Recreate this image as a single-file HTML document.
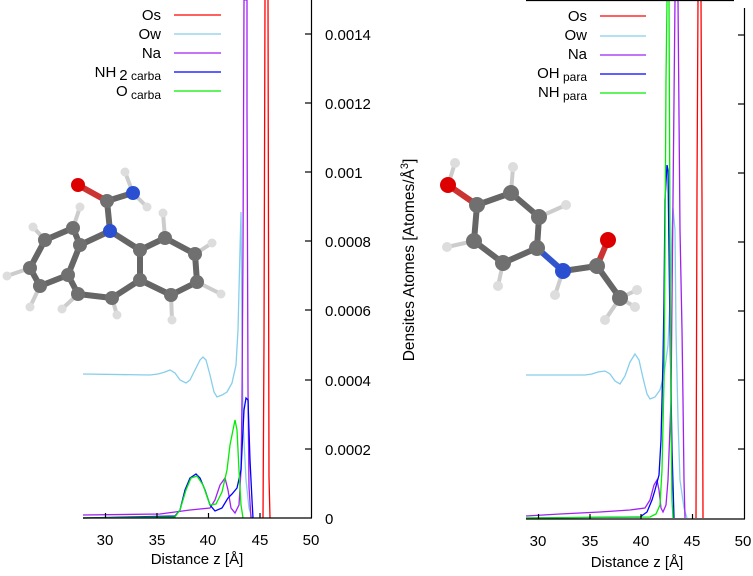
<!DOCTYPE html>
<html><head><meta charset="utf-8"><style>
html,body{margin:0;padding:0;background:#fff}
svg{display:block}
text{font-family:"Liberation Sans",sans-serif;fill:#000}
</style></head><body>
<svg width="753" height="576" viewBox="0 0 753 576" xmlns="http://www.w3.org/2000/svg">
<g stroke-linecap="round">
<g stroke="#666" stroke-width="6">
<line x1="78" y1="185" x2="107" y2="201" stroke="#c33"/>
<line x1="107" y1="201" x2="133" y2="193"/>
<line x1="133" y1="193" x2="125" y2="172" stroke="#ccc" stroke-width="4"/>
<line x1="133" y1="193" x2="147" y2="207" stroke="#ccc" stroke-width="4"/>
<line x1="107" y1="201" x2="110" y2="231"/>
<line x1="110" y1="231" x2="80" y2="245"/>
<line x1="110" y1="231" x2="140" y2="250"/>
<line x1="80" y1="245" x2="73" y2="228"/>
<line x1="73" y1="228" x2="80" y2="207" stroke="#ccc" stroke-width="4"/>
<line x1="73" y1="228" x2="45" y2="240"/>
<line x1="45" y1="240" x2="33" y2="227" stroke="#ccc" stroke-width="4"/>
<line x1="45" y1="240" x2="30" y2="268"/>
<line x1="30" y1="268" x2="7" y2="276" stroke="#ccc" stroke-width="4"/>
<line x1="30" y1="268" x2="40" y2="286"/>
<line x1="40" y1="286" x2="30" y2="307" stroke="#ccc" stroke-width="4"/>
<line x1="40" y1="286" x2="68" y2="275"/>
<line x1="68" y1="275" x2="80" y2="245"/>
<line x1="68" y1="275" x2="78" y2="294"/>
<line x1="78" y1="294" x2="62" y2="309" stroke="#ccc" stroke-width="4"/>
<line x1="78" y1="294" x2="112" y2="298"/>
<line x1="112" y1="298" x2="117" y2="315" stroke="#ccc" stroke-width="4"/>
<line x1="112" y1="298" x2="140" y2="280"/>
<line x1="140" y1="280" x2="140" y2="250"/>
<line x1="140" y1="280" x2="171" y2="295"/>
<line x1="171" y1="295" x2="172" y2="320" stroke="#ccc" stroke-width="4"/>
<line x1="171" y1="295" x2="197" y2="282"/>
<line x1="197" y1="282" x2="221" y2="294" stroke="#ccc" stroke-width="4"/>
<line x1="197" y1="282" x2="195" y2="254"/>
<line x1="195" y1="254" x2="212" y2="243" stroke="#ccc" stroke-width="4"/>
<line x1="195" y1="254" x2="165" y2="238"/>
<line x1="165" y1="238" x2="163" y2="213" stroke="#ccc" stroke-width="4"/>
<line x1="165" y1="238" x2="140" y2="250"/>
</g>
<g fill="#707070">
<circle cx="107" cy="201" r="7"/><circle cx="80" cy="245" r="7"/><circle cx="73" cy="228" r="7"/>
<circle cx="45" cy="240" r="7"/><circle cx="30" cy="268" r="7"/><circle cx="40" cy="286" r="7"/>
<circle cx="68" cy="275" r="7"/><circle cx="78" cy="294" r="7"/><circle cx="112" cy="298" r="7"/>
<circle cx="140" cy="280" r="7"/><circle cx="140" cy="250" r="7"/><circle cx="171" cy="295" r="7"/>
<circle cx="197" cy="282" r="7"/><circle cx="195" cy="254" r="7"/><circle cx="165" cy="238" r="7"/>
</g>
<circle cx="78" cy="185" r="7" fill="#d00"/>
<circle cx="133" cy="193" r="7" fill="#2a4fd0"/><circle cx="110" cy="231" r="7" fill="#2a4fd0"/>
<g fill="#ddd">
<circle cx="125" cy="172" r="4.5"/><circle cx="147" cy="207" r="4.5"/><circle cx="80" cy="207" r="4.5"/>
<circle cx="33" cy="227" r="4.5"/><circle cx="7" cy="276" r="4.5"/><circle cx="30" cy="307" r="4.5"/>
<circle cx="62" cy="309" r="4.5"/><circle cx="117" cy="315" r="4.5"/><circle cx="172" cy="320" r="4.5"/>
<circle cx="221" cy="294" r="4.5"/><circle cx="212" cy="243" r="4.5"/><circle cx="163" cy="213" r="4.5"/>
</g>
<g stroke="#666" stroke-width="6">
<line x1="455" y1="163" x2="448" y2="185" stroke="#ccc" stroke-width="4"/>
<line x1="448" y1="185" x2="477" y2="205" stroke="#c33"/>
<line x1="477" y1="205" x2="511" y2="193"/>
<line x1="511" y1="193" x2="513" y2="167" stroke="#ccc" stroke-width="4"/>
<line x1="511" y1="193" x2="539" y2="217"/>
<line x1="539" y1="217" x2="566" y2="205" stroke="#ccc" stroke-width="4"/>
<line x1="539" y1="217" x2="537" y2="248"/>
<line x1="537" y1="248" x2="563" y2="271" stroke="#3355cc"/>
<line x1="563" y1="271" x2="555" y2="295" stroke="#ccc" stroke-width="4"/>
<line x1="537" y1="248" x2="503" y2="263"/>
<line x1="503" y1="263" x2="498" y2="286" stroke="#ccc" stroke-width="4"/>
<line x1="503" y1="263" x2="474" y2="241"/>
<line x1="474" y1="241" x2="447" y2="247" stroke="#ccc" stroke-width="4"/>
<line x1="474" y1="241" x2="477" y2="205"/>
<line x1="563" y1="271" x2="597" y2="266"/>
<line x1="597" y1="266" x2="608" y2="240" stroke="#c33"/>
<line x1="597" y1="266" x2="620" y2="298"/>
<line x1="620" y1="298" x2="637" y2="290" stroke="#ccc" stroke-width="4"/>
<line x1="620" y1="298" x2="635" y2="307" stroke="#ccc" stroke-width="4"/>
<line x1="620" y1="298" x2="605" y2="320" stroke="#ccc" stroke-width="4"/>
</g>
<g fill="#707070">
<circle cx="477" cy="205" r="8"/><circle cx="511" cy="193" r="8"/><circle cx="539" cy="217" r="8"/>
<circle cx="537" cy="248" r="8"/><circle cx="503" cy="263" r="8"/><circle cx="474" cy="241" r="8"/>
<circle cx="597" cy="266" r="8"/><circle cx="620" cy="298" r="8"/>
</g>
<circle cx="448" cy="185" r="8" fill="#d00"/><circle cx="608" cy="240" r="8" fill="#d00"/>
<circle cx="563" cy="271" r="8" fill="#2a4fd0"/>
<g fill="#ddd">
<circle cx="455" cy="163" r="5"/><circle cx="513" cy="167" r="5"/><circle cx="566" cy="205" r="5"/>
<circle cx="555" cy="295" r="5"/><circle cx="498" cy="286" r="5"/><circle cx="447" cy="247" r="5"/>
<circle cx="637" cy="290" r="5"/><circle cx="635" cy="307" r="5"/><circle cx="605" cy="320" r="5"/>
</g>
</g>

<g fill="none" stroke-width="1.3">
<polyline stroke="#87ceeb" points="83,374 150,375 158,374 165,372 170,370 175,373 180,380 186,383 190,380 195,370 200,360 203,357 206,360 210,375 214,392 217,397 222,395 227,392 232,383 236,365 238,330 239,290 240,250 241,212 242,330 243,420 246,480 249,508 252,518"/>
<polyline stroke="#a020f0" points="83,515 160,514 190,510 210,508 215,500 220,485 225,478 228,490 231,508 235,513 239,505 241,470 242,400 243,250 244,0 247,0 247,110 248,390 249,487 251,518"/>
<polyline stroke="#0000ff" points="83,518 175,516 180,510 185,490 190,478 196,474 200,478 205,490 210,505 215,511 222,508 228,498 232,494 237,488 241,470 244,410 246,398 248,400 250,460 252,500 253,518"/>
<polyline stroke="#00ee00" points="83,518 175,517 180,510 186,490 191,478 197,476 203,485 210,505 216,504 222,492 227,470 230,445 235,420 237,430 239,470 241,505 243,518"/>
<polyline stroke="#ff0000" points="263,518 264,340 265,0"/>
<polyline stroke="#ff0000" points="268,0 269,477 270,518"/>
</g>
<g stroke="#000" stroke-width="1.2" fill="none">
<line x1="83" y1="518" x2="312" y2="518"/>
<line x1="311.5" y1="0" x2="311.5" y2="518"/>
<line x1="305" y1="34" x2="311" y2="34"/><line x1="305" y1="103" x2="311" y2="103"/>
<line x1="305" y1="172" x2="311" y2="172"/><line x1="305" y1="241" x2="311" y2="241"/>
<line x1="305" y1="310" x2="311" y2="310"/><line x1="305" y1="380" x2="311" y2="380"/>
<line x1="305" y1="449" x2="311" y2="449"/>
<line x1="105.5" y1="513" x2="105.5" y2="518"/><line x1="157" y1="513" x2="157" y2="518"/>
<line x1="208.5" y1="513" x2="208.5" y2="518"/><line x1="260" y1="513" x2="260" y2="518"/>
</g>
<g font-size="15">
<text x="325" y="40">0.0014</text><text x="325" y="109">0.0012</text>
<text x="325" y="178">0.001</text><text x="325" y="247">0.0008</text>
<text x="325" y="316">0.0006</text><text x="325" y="386">0.0004</text>
<text x="325" y="455">0.0002</text><text x="325" y="524">0</text>
<g text-anchor="middle">
<text x="105" y="545">30</text><text x="157" y="545">35</text><text x="208" y="545">40</text>
<text x="260" y="545">45</text><text x="311" y="545">50</text>
<text x="197" y="564">Distance z [Å]</text>
</g>
<g text-anchor="end">
<text x="161" y="20">Os</text><text x="161" y="39">Ow</text><text x="161" y="58">Na</text>
<text x="161" y="77">NH<tspan dx="3" dy="3">2</tspan><tspan font-size="12"> carba</tspan></text>
<text x="161" y="96">O<tspan font-size="12" dy="3"> carba</tspan></text>
</g>
</g>
<g stroke-width="1.3">
<line x1="174" y1="15" x2="221" y2="15" stroke="#f00"/>
<line x1="174" y1="34" x2="221" y2="34" stroke="#87ceeb"/>
<line x1="174" y1="53" x2="221" y2="53" stroke="#a020f0"/>
<line x1="174" y1="72" x2="221" y2="72" stroke="#00f"/>
<line x1="174" y1="91" x2="221" y2="91" stroke="#0e0"/>
</g>

<text transform="translate(414,260) rotate(-90)" text-anchor="middle" font-size="15.5">Densites Atomes [Atomes/Å<tspan font-size="11" dy="-6">3</tspan><tspan dy="6">]</tspan></text>

<g fill="none" stroke-width="1.3">
<polyline stroke="#87ceeb" points="526,375 585,375 592,374 598,372 605,371 610,374 615,381 620,384 625,376 630,362 635,354 639,360 643,378 647,394 650,399 655,397 660,390 664,375 668,345 670,300 672,230 673,208 675,230 676,330 678,420 680,480 684,508 687,518"/>
<polyline stroke="#a020f0" points="526,516 560,514 600,512 630,510 645,508 650,500 654,485 657,480 659,490 661,508 663,512 666,505 668,480 671,400 673,200 675,0 678,0 680,230 682,330 683,400 684,480 685,518"/>
<polyline stroke="#0000ff" points="526,518 640,517 647,512 652,500 655,490 659,475 661,440 663,360 664,300 665,200 667,165 668,170 669,250 670,330 672,450 674,518"/>
<polyline stroke="#00ee00" points="526,518 650,517 656,514 660,505 662,470 664,380 665,250 666,80 667,0 669,0 670,250 671,420 672,500 673,518"/>
<polyline stroke="#ff0000" points="696,518 697,190 698,0"/>
<polyline stroke="#ff0000" points="701,0 702,200 703,518"/>
</g>
<g stroke="#000" stroke-width="1.2" fill="none">
<line x1="526" y1="0.5" x2="734" y2="0.5"/>
<line x1="526" y1="519" x2="745" y2="519"/>
<line x1="744.5" y1="8" x2="744.5" y2="519"/>
<line x1="738" y1="35" x2="744" y2="35"/><line x1="738" y1="104" x2="744" y2="104"/>
<line x1="738" y1="173" x2="744" y2="173"/><line x1="738" y1="242" x2="744" y2="242"/>
<line x1="738" y1="311" x2="744" y2="311"/><line x1="738" y1="380" x2="744" y2="380"/>
<line x1="738" y1="449" x2="744" y2="449"/>
<line x1="538.5" y1="514" x2="538.5" y2="519"/><line x1="590" y1="514" x2="590" y2="519"/>
<line x1="641" y1="514" x2="641" y2="519"/><line x1="692.5" y1="514" x2="692.5" y2="519"/>
</g>
<g font-size="15">
<g text-anchor="middle">
<text x="538" y="546">30</text><text x="590" y="546">35</text><text x="641" y="546">40</text>
<text x="692" y="546">45</text><text x="743" y="546">50</text>
<text x="637" y="567">Distance z [Å]</text>
</g>
<g text-anchor="end">
<text x="587" y="21">Os</text><text x="587" y="40">Ow</text><text x="587" y="59">Na</text>
<text x="587" y="78">OH<tspan font-size="12" dy="3"> para</tspan></text>
<text x="587" y="97">NH<tspan font-size="12" dy="3"> para</tspan></text>
</g>
</g>
<g stroke-width="1.3">
<line x1="600" y1="16" x2="646" y2="16" stroke="#f00"/>
<line x1="600" y1="36" x2="646" y2="36" stroke="#87ceeb"/>
<line x1="600" y1="55" x2="646" y2="55" stroke="#a020f0"/>
<line x1="600" y1="74" x2="646" y2="74" stroke="#00f"/>
<line x1="600" y1="93" x2="646" y2="93" stroke="#0e0"/>
</g>
</svg>
</body></html>
